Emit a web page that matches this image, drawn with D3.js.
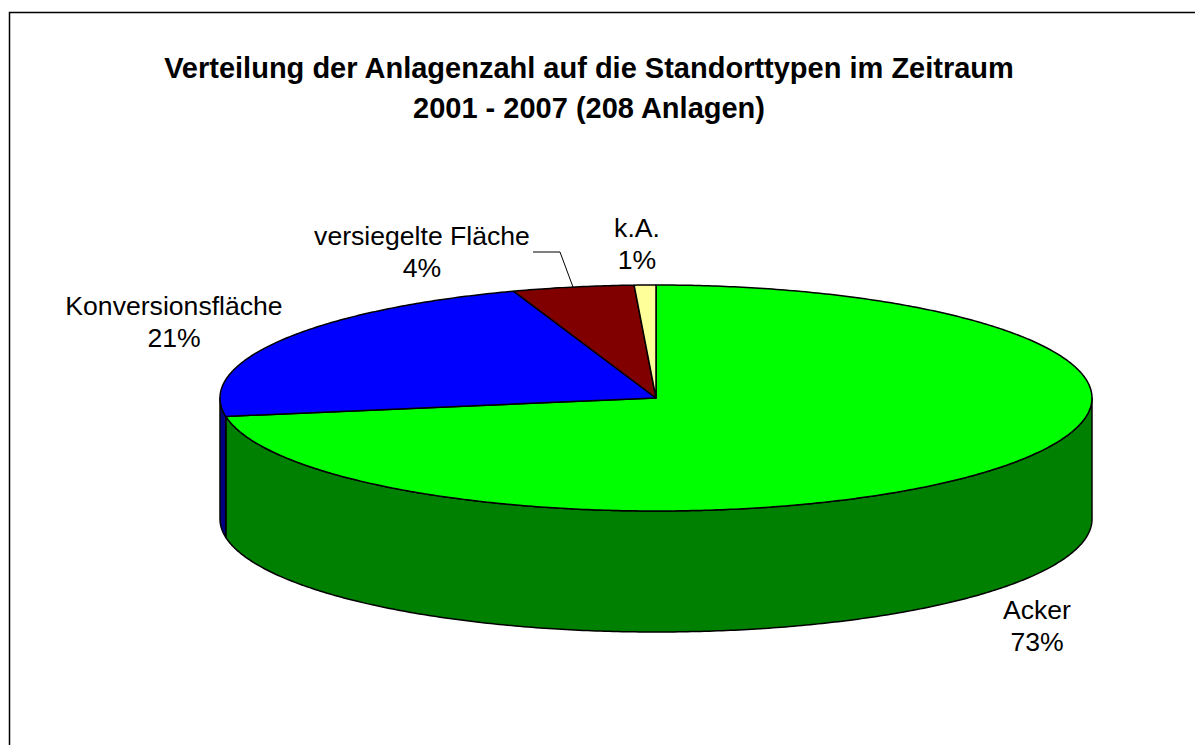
<!DOCTYPE html>
<html>
<head>
<meta charset="utf-8">
<script src="https://cdn.jsdelivr.net/npm/d3@7"></script>
<style>
  html, body { margin: 0; padding: 0; background: #fff; }
  svg { display: block; }
  text { font-family: "Liberation Sans", Arial, sans-serif; fill: #000; }
</style>
</head>
<body>
<svg id="chart" width="1195" height="745"></svg>
<script>
const titleLines = ["Verteilung der Anlagenzahl auf die Standorttypen im Zeitraum", "2001 - 2007 (208 Anlagen)"];
const categories = ["Acker", "Konversionsfläche", "versiegelte Fläche", "k.A."];
// drawn shares
const shares = [72.4, 22.3, 4.5, 0.8];
const percentLabels = ["73%", "21%", "4%", "1%"];
const topColors = ["#00ff00", "#0000ff", "#800000", "#ffff99"];
const sideColors = ["#008000", "#000080", "#400000", "#808040"];

const width = 1195, height = 745;
const cx = 656, cy = 398, rx = 436, ry = 113, depth = 121;

const svg = d3.select("#chart");

// frame, only top and left are inside the picture
svg.append("path")
    .attr("d", "M9.5,745V12.5H1195")
    .attr("fill", "none")
    .attr("stroke", "#000")
    .attr("stroke-width", 1.5);

const pie = d3.pie().sort(null).value(d => d);
const arcs = pie(shares);

const px = a => cx + rx * Math.sin(a);
const py = (a, dy) => cy - ry * Math.cos(a) + (dy || 0);

function anglesBetween(a0, a1) {
    const n = Math.max(2, Math.ceil((a1 - a0) / 0.01));
    return d3.range(n + 1).map(i => a0 + (a1 - a0) * i / n);
}

const rim = d3.line().x(d => px(d[0])).y(d => py(d[0], d[1]));

// side walls, only the part of each slice facing front
const front0 = Math.PI / 2, front1 = Math.PI * 3 / 2;
arcs.forEach((d, i) => {
    const a0 = Math.max(d.startAngle, front0);
    const a1 = Math.min(d.endAngle, front1);
    if (a1 <= a0) return;
    const pts = anglesBetween(a0, a1).map(a => [a, 0])
        .concat(anglesBetween(a0, a1).reverse().map(a => [a, depth]));
    svg.append("path")
        .attr("d", rim(pts) + "Z")
        .attr("fill", sideColors[i])
        .attr("stroke", "#000")
        .attr("stroke-width", 1.5)
        .attr("stroke-linejoin", "round");
});

// top faces
arcs.forEach((d, i) => {
    const pts = anglesBetween(d.startAngle, d.endAngle).map(a => [a, 0]);
    svg.append("path")
        .attr("d", `M${cx},${cy}L` + rim(pts).slice(1) + "Z")
        .attr("fill", topColors[i])
        .attr("stroke", "#000")
        .attr("stroke-width", 1.5)
        .attr("stroke-linejoin", "round");
});

// leader line of versiegelte Fläche
svg.append("polyline")
    .attr("points", "533,252 560,252 573,287")
    .attr("fill", "none")
    .attr("stroke", "#000")
    .attr("stroke-width", 1);

// title
svg.append("g").selectAll("text").data(titleLines).join("text")
    .attr("x", 589)
    .attr("y", (d, i) => 78 + i * 40)
    .attr("text-anchor", "middle")
    .attr("font-size", 29)
    .attr("font-weight", "bold")
    .text(d => d);

// slice labels
const labelX = [1037, 174, 422, 637];
const labelY = [618.5, 315, 245, 237];
categories.forEach((c, i) => {
    const g = svg.append("g").attr("font-size", 26.6).attr("text-anchor", "middle");
    g.append("text").attr("x", labelX[i]).attr("y", labelY[i]).text(c);
    g.append("text").attr("x", labelX[i]).attr("y", labelY[i] + 32.3).text(percentLabels[i]);
});
</script>
</body>
</html>
